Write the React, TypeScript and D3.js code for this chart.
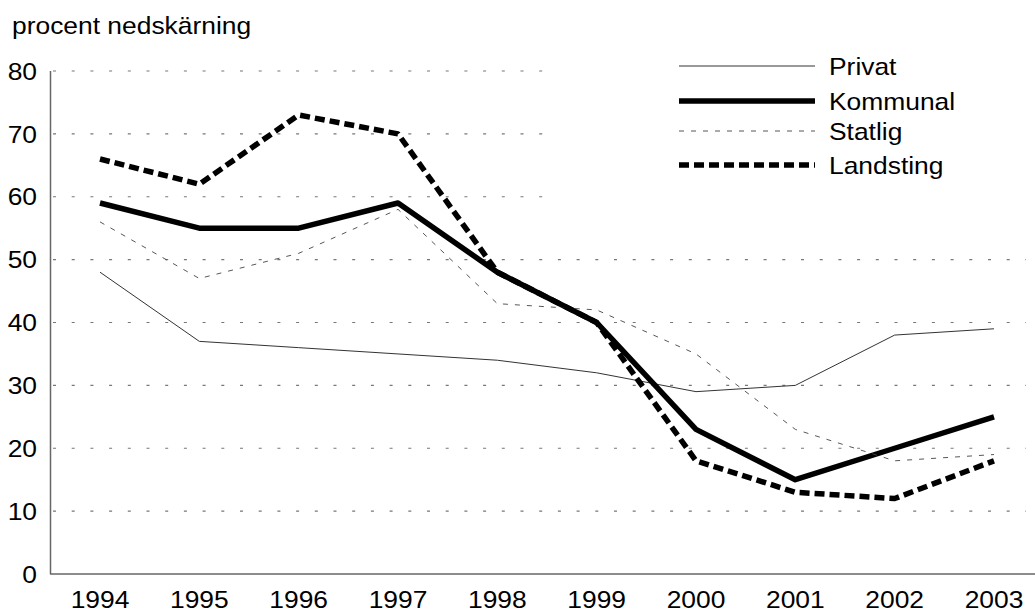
import React from "react";
import * as d3 from "d3";

const years = ["1994", "1995", "1996", "1997", "1998", "1999", "2000", "2001", "2002", "2003"];
const privat = [48, 37, 36, 35, 34, 32, 29, 30, 38, 39];
const kommunal = [59, 55, 55, 59, 48, 40, 23, 15, 20, 25];
const statlig = [56, 47, 51, 58, 43, 42, 35, 23, 18, 19];
const landsting = [66, 62, 73, 70, 48, 40, 18, 13, 12, 18];
const yTicks = [0, 10, 20, 30, 40, 50, 60, 70, 80];
const seriesNames = ["Privat", "Kommunal", "Statlig", "Landsting"];

const W = 1035;
const H = 612;
const FONT = "'Liberation Sans', Arial, Helvetica, sans-serif";
const FS = 24;
const SX = 1.1;

function T(props: { x: number; y: number; anchor?: string; dy?: string; children: React.ReactNode; size?: number }) {
  return (
    <text
      transform={`translate(${props.x},${props.y}) scale(${SX},1)`}
      dy={props.dy}
      textAnchor={props.anchor || "start"}
      fontSize={props.size || FS}
      fill="#000"
    >
      {props.children}
    </text>
  );
}

export default function App() {
  const x = d3.scalePoint<string>().domain(years).range([100, 994]);
  const y = d3.scaleLinear().domain([0, 80]).range([574, 71]);

  const styles = [
    { stroke: "#333", width: 1, dash: "" },
    { stroke: "#000", width: 5.5, dash: "" },
    { stroke: "#444", width: 0.9, dash: "5,7" },
    { stroke: "#000", width: 5.5, dash: "10,5" },
  ];
  const data = [privat, kommunal, statlig, landsting];
  const line = d3
    .line<number>()
    .x((_, i) => x(years[i]) as number)
    .y((d) => y(d));

  return (
    <svg
      width={W}
      height={H}
      style={{ position: "absolute", left: 0, top: 0, background: "#fff" }}
      fontFamily={FONT}
    >
      <rect x={0} y={0} width={W} height={H} fill="#fff" />
      <T x={12} y={34} size={24}>procent nedskärning</T>
      {/* gridlines */}
      {yTicks
        .filter((t) => t > 0)
        .map((t) => (
          <line
            key={t}
            x1={53}
            x2={1026}
            y1={y(t)}
            y2={y(t)}
            stroke="#777"
            strokeWidth={1.2}
            strokeDasharray="3,15.7"
          />
        ))}
      {/* legend background */}
      <rect x={549} y={55} width={W - 549} height={150} fill="#fff" />
      {/* axes */}
      <line x1={50.5} x2={50.5} y1={71} y2={574} stroke="#666" strokeWidth={1.5} />
      <line x1={50} x2={W} y1={574} y2={574} stroke="#666" strokeWidth={1.5} />
      {yTicks.map((t) => (
        <T key={t} x={37} y={y(t)} dy="0.36em" anchor="end">
          {t}
        </T>
      ))}
      {years.map((yr) => (
        <T key={yr} x={x(yr) as number} y={608} anchor="middle">
          {yr}
        </T>
      ))}
      {/* series */}
      {data.map((d, i) => (
        <path
          key={seriesNames[i]}
          d={line(d) as string}
          fill="none"
          stroke={styles[i].stroke}
          strokeWidth={styles[i].width}
          strokeDasharray={styles[i].dash || undefined}
          strokeLinejoin="round"
        />
      ))}
      {/* legend */}
      {seriesNames.map((n, i) => {
        const ly = [66, 101, 131, 165][i];
        return (
          <g key={n}>
            <line
              x1={679}
              x2={815}
              y1={ly}
              y2={ly}
              stroke={styles[i].stroke}
              strokeWidth={styles[i].width}
              strokeDasharray={styles[i].dash || undefined}
            />
            <T x={829} y={ly} dy="0.36em">
              {n}
            </T>
          </g>
        );
      })}
    </svg>
  );
}
